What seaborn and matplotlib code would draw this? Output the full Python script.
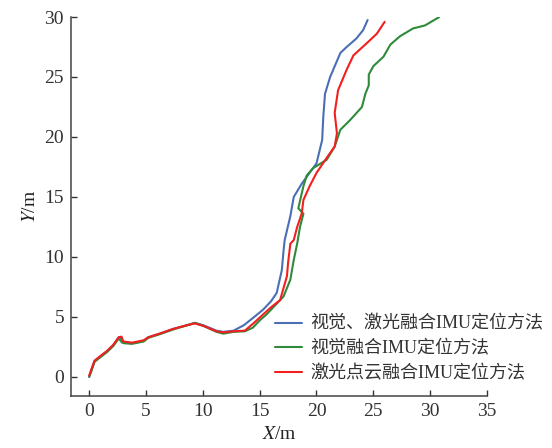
import matplotlib
matplotlib.use("Agg")
import matplotlib.pyplot as plt
import seaborn as sns

# trajectories (metres)
blue_x = [0, 0.24, 0.47, 1.0, 1.55, 2.1, 2.6, 2.8, 3.0, 3.75, 4.3, 4.8, 5.2, 6.2, 7.4, 8.6, 9.3, 10.05,
          11.2, 11.8, 12.7, 13.6, 14.4, 15.3, 16.0, 16.5, 16.95, 17.1, 17.2, 17.7, 18.0, 18.7, 20.0,
          20.5, 20.6, 20.75, 21.2, 22.1, 22.65, 23.5, 24.1, 24.5]
blue_y = [0, 0.7, 1.3, 1.7, 2.1, 2.6, 3.3, 3.2, 2.9, 2.8, 2.9, 3.0, 3.3, 3.6, 4.0, 4.3, 4.5, 4.3,
          3.85, 3.75, 3.85, 4.3, 4.9, 5.6, 6.3, 7.0, 8.9, 10.5, 11.4, 13.4, 15.0, 16.1, 17.8,
          19.75, 21.7, 23.6, 25.0, 27.0, 27.5, 28.2, 28.9, 29.75]

green_x = [0, 0.24, 0.47, 1.0, 1.55, 2.1, 2.6, 2.9, 3.1, 3.75, 4.3, 4.8, 5.2, 6.2, 7.4, 8.6, 9.3, 10.05,
           11.2, 11.8, 12.7, 13.7, 14.4, 15.0, 15.6, 16.4, 17.1, 17.7, 18.0, 18.3, 18.55, 18.85, 18.4,
           18.85, 19.15, 19.7, 20.9, 21.6, 22.1, 22.95, 24.0, 24.3, 24.6, 24.6, 25.0, 25.9, 26.5,
           27.35, 28.5, 29.55, 30.8]
green_y = [0, 0.6, 1.25, 1.65, 2.05, 2.55, 3.2, 2.85, 2.8, 2.75, 2.85, 2.95, 3.25, 3.55, 3.95, 4.3, 4.5, 4.25,
           3.75, 3.6, 3.75, 3.8, 4.1, 4.7, 5.2, 6.0, 6.7, 8.1, 9.75, 11.1, 12.5, 13.6, 14.05,
           15.9, 16.8, 17.4, 18.1, 19.2, 20.6, 21.4, 22.5, 23.6, 24.3, 25.2, 25.9, 26.7, 27.7,
           28.4, 29.05, 29.3, 30.0]

red_x = [0, 0.24, 0.47, 1.0, 1.55, 2.1, 2.6, 2.85, 3.0, 3.75, 4.3, 4.8, 5.2, 6.2, 7.4, 8.6, 9.3, 10.05,
         11.2, 11.8, 12.7, 13.7, 14.5, 15.3, 16.0, 16.8, 17.4, 17.5, 17.7, 18.0, 18.3, 18.7, 18.85,
         19.4, 20.0, 21.0, 21.6, 21.8, 21.6, 21.9, 22.65, 23.25, 24.4, 25.3, 26.0]
red_y = [0.1, 0.75, 1.35, 1.75, 2.15, 2.65, 3.3, 3.35, 2.95, 2.85, 2.95, 3.05, 3.3, 3.6, 4.0, 4.3, 4.45, 4.25,
         3.8, 3.7, 3.8, 3.85, 4.5, 5.2, 5.8, 6.4, 8.4, 9.5, 11.1, 11.4, 12.5, 13.6, 14.75,
         15.9, 17.0, 18.4, 19.2, 20.3, 22.0, 23.9, 25.6, 26.8, 27.8, 28.6, 29.6]

labels = ["视觉、激光融合IMU定位方法", "视觉融合IMU定位方法", "激光点云融合IMU定位方法"]
colors = ["#4a6fb5", "#2f8a3a", "#f21f1f"]

sns.set_style("ticks")
plt.rcParams["font.family"] = ["Liberation Serif", "Noto Sans CJK SC"]
plt.rcParams["mathtext.fontset"] = "stix"

fig = plt.figure(figsize=(5.52, 4.48), dpi=100)
ax = fig.add_axes([0.1286, 0.116, 0.7536, 0.846])

series = [(blue_x, blue_y), (green_x, green_y), (red_x, red_y)]
for (xs, ys), lab, col in zip(series, labels, colors):
    sns.lineplot(x=xs, y=ys, sort=False, estimator=None, color=col, linewidth=1.5, label=lab, ax=ax)

ax.set_xlim(-1.6, 35)
ax.set_ylim(-1.6, 30)
ax.set_xticks(range(0, 36, 5))
ax.set_yticks(range(0, 31, 5))
ax.set_xlabel("$X$/m", fontsize=14, color="#222222", labelpad=4)
ax.set_ylabel("$Y$/m", fontsize=14, color="#222222", labelpad=4)
ax.tick_params(direction="in", length=4.5, width=1, labelsize=14, colors="#333333", pad=5)
for s in ["top", "right"]:
    ax.spines[s].set_visible(False)
for s in ["left", "bottom"]:
    ax.spines[s].set_color("#444444")
    ax.spines[s].set_linewidth(1.1)

ax.legend(loc="upper left", bbox_to_anchor=(0.49, 0.212), frameon=False, fontsize=13,
          borderaxespad=0, borderpad=0, handlelength=1.5, handletextpad=0.45, labelspacing=0.42,
          labelcolor="#333333")

fig.savefig("out.png", dpi=100)
